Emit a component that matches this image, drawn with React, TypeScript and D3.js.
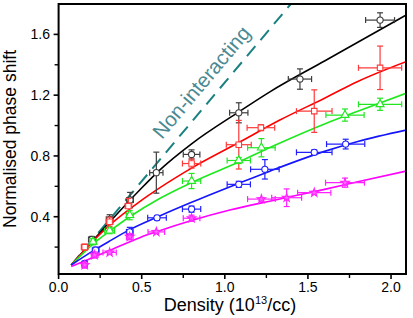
import { line, curveMonotoneX, curveLinear, scaleLinear, symbol, symbolCircle, symbolSquare, symbolTriangle, symbolStar } from "d3";

// measured points: [density, phase shift, x error, y error]
const blackPoints = [
  [0.2, 0.25, 0.02, 0.02],
  [0.307, 0.383, 0.02, 0.03],
  [0.43, 0.51, 0.02, 0.05],
  [0.588, 0.69, 0.04, 0.135],
  [0.8, 0.81, 0.05, 0.03],
  [1.084, 1.084, 0.055, 0.066],
  [1.452, 1.306, 0.07, 0.067],
  [1.934, 1.694, 0.087, 0.048],
];
const redPoints = [
  [0.157, 0.2, 0.02, 0.02],
  [0.307, 0.367, 0.02, 0.03],
  [0.42, 0.47, 0.02, 0.05],
  [0.8, 0.75, 0.055, 0.03],
  [1.084, 0.874, 0.075, 0.16],
  [1.217, 0.986, 0.083, 0.02],
  [1.538, 1.095, 0.107, 0.14],
  [1.934, 1.38, 0.13, 0.143],
];
const greenPoints = [
  [0.207, 0.235, 0.02, 0.02],
  [0.307, 0.308, 0.03, 0.02],
  [0.428, 0.41, 0.02, 0.03],
  [0.8, 0.635, 0.055, 0.05],
  [1.084, 0.77, 0.07, 0.02],
  [1.22, 0.854, 0.083, 0.06],
  [1.723, 1.069, 0.115, 0.04],
  [1.934, 1.14, 0.13, 0.04],
];
const bluePoints = [
  [0.157, 0.089, 0.015, 0.02],
  [0.223, 0.18, 0.02, 0.02],
  [0.428, 0.3, 0.02, 0.03],
  [0.592, 0.393, 0.056, 0.015],
  [0.8, 0.45, 0.055, 0.02],
  [1.084, 0.613, 0.07, 0.02],
  [1.241, 0.712, 0.086, 0.064],
  [1.538, 0.824, 0.107, 0.015],
  [1.727, 0.878, 0.115, 0.032],
];
const magentaPoints = [
  [0.157, 0.082, 0.015, 0.02],
  [0.217, 0.148, 0.02, 0.02],
  [0.307, 0.165, 0.04, 0.01],
  [0.428, 0.268, 0.02, 0.02],
  [0.588, 0.3, 0.05, 0.01],
  [0.8, 0.39, 0.05, 0.02],
  [1.22, 0.516, 0.083, 0.01],
  [1.372, 0.525, 0.09, 0.058],
  [1.538, 0.558, 0.1, 0.01],
  [1.723, 0.624, 0.117, 0.03],
];

// fitted curves
const blackFit = [[0.076, 0.082], [0.2, 0.235], [0.307, 0.365], [0.488, 0.576], [0.608, 0.707], [0.8, 0.88], [1.084, 1.09], [1.271, 1.222], [1.6, 1.425], [1.8, 1.548], [2.09, 1.727]];
const redFit = [[0.076, 0.082], [0.2, 0.232], [0.307, 0.345], [0.488, 0.5], [0.608, 0.59], [0.8, 0.72], [1.084, 0.888], [1.331, 1.036], [1.6, 1.18], [1.8, 1.29], [2.09, 1.42]];
const greenFit = [[0.076, 0.082], [0.207, 0.22], [0.307, 0.305], [0.428, 0.4], [0.608, 0.52], [0.8, 0.625], [1.084, 0.76], [1.271, 0.855], [1.6, 1.01], [1.8, 1.094], [2.09, 1.212]];
const blueFit = [[0.076, 0.082], [0.2, 0.17], [0.3, 0.235], [0.428, 0.315], [0.608, 0.405], [0.8, 0.495], [1.084, 0.62], [1.271, 0.7], [1.6, 0.83], [1.8, 0.895], [2.09, 0.97]];
const magentaFit = [[0.076, 0.072], [0.2, 0.128], [0.307, 0.178], [0.488, 0.262], [0.608, 0.308], [0.8, 0.375], [1.03, 0.444], [1.311, 0.512], [1.6, 0.58], [1.8, 0.63], [2.09, 0.7]];
const nonInteracting = [[0.076, 0.082], [1.397, 1.8]];

const xTicks = [0, 0.5, 1.0, 1.5, 2.0];
const xMinor = [0.25, 0.75, 1.25, 1.75];
const yTicks = [0.4, 0.8, 1.2, 1.6];
const yMinor = [0.2, 0.6, 1.0, 1.4];

const series = [
  { name: "black", points: blackPoints, fit: blackFit, line: "#000000", err: "#3c3c3c", marker: symbolCircle, size: 30 },
  { name: "red", points: redPoints, fit: redFit, line: "#ff0000", err: "#ff3a3a", marker: symbolSquare, size: 30 },
  { name: "green", points: greenPoints, fit: greenFit, line: "#1ee81e", err: "#22e622", marker: symbolTriangle, size: 28 },
  { name: "blue", points: bluePoints, fit: blueFit, line: "#1414ff", err: "#2020ff", marker: symbolCircle, size: 30 },
  { name: "magenta", points: magentaPoints, fit: magentaFit, line: "#ff00ff", err: "#ff22ff", marker: symbolStar, size: 22 },
];

const font = "'Liberation Sans', Arial, sans-serif";

export default function App() {
  const width = 413;
  const height = 318;
  const left = 58.6;
  const right = 406;
  const top = 4;
  const bottom = 274;
  const x = scaleLinear().domain([0, 2.09]).range([left, right]);
  const y = scaleLinear().domain([0.023, 1.8]).range([bottom, top]);

  const fitLine = line<number[]>()
    .x((d) => x(d[0]))
    .y((d) => y(d[1]))
    .curve(curveMonotoneX);
  const straight = line<number[]>()
    .x((d) => x(d[0]))
    .y((d) => y(d[1]))
    .curve(curveLinear);

  const angle = (Math.atan2(y(0.082) - y(1.8), x(1.397) - x(0.076)) * 180) / Math.PI;

  return (
    <svg width={width} height={height} style={{ position: "absolute", left: 0, top: 0, background: "#fff" }} fontFamily={font}>
      <defs>
        <clipPath id="plot">
          <rect x={left} y={top} width={right - left} height={bottom - top} />
        </clipPath>
      </defs>

      <g clipPath="url(#plot)">
        <path d={straight(nonInteracting) ?? ""} fill="none" stroke="#1b8080" strokeWidth={2} strokeDasharray="13 8" />
        {series.map((s) => (
          <path key={s.name} d={fitLine(s.fit) ?? ""} fill="none" stroke={s.line} strokeWidth={1.6} />
        ))}
      </g>

      <text x={162} y={140} fontSize={20.5} fill="#4a8a93" transform={`rotate(${-angle} 162 140)`}>
        Non-interacting
      </text>

      {series.map((s) => (
        <g key={s.name}>
          {s.points.map((p, i) => {
            const cx = x(p[0]);
            const cy = y(p[1]);
            const x0 = x(p[0] - p[2]);
            const x1 = x(p[0] + p[2]);
            const y0 = y(p[1] - p[3]);
            const y1 = y(p[1] + p[3]);
            const c = 3;
            return (
              <g key={i} stroke={s.err} strokeWidth={1.2} fill="none">
                <line x1={x0} x2={x1} y1={cy} y2={cy} />
                <line x1={cx} x2={cx} y1={y0} y2={y1} />
                <line x1={x0} x2={x0} y1={cy - c} y2={cy + c} />
                <line x1={x1} x2={x1} y1={cy - c} y2={cy + c} />
                <line x1={cx - c} x2={cx + c} y1={y0} y2={y0} />
                <line x1={cx - c} x2={cx + c} y1={y1} y2={y1} />
                <path
                  d={symbol().type(s.marker).size(s.size)() ?? ""}
                  transform={`translate(${cx},${cy})`}
                  fill={s.name === "magenta" ? "#ff66ff" : "#ffffff"}
                  stroke={s.err}
                  strokeWidth={1.1}
                />
              </g>
            );
          })}
        </g>
      ))}

      {/* frame */}
      <rect x={left} y={top} width={right - left} height={bottom - top} fill="none" stroke="#000" strokeWidth={2} />

      {xTicks.map((t) => (
        <g key={t}>
          <line x1={x(t)} x2={x(t)} y1={bottom} y2={bottom + 5} stroke="#000" strokeWidth={1.6} />
          <text x={x(t)} y={292} fontSize={14} textAnchor="middle" fill="#000">
            {t.toFixed(1)}
          </text>
        </g>
      ))}
      {xMinor.map((t) => (
        <line key={t} x1={x(t)} x2={x(t)} y1={bottom} y2={bottom + 4} stroke="#000" strokeWidth={1.4} />
      ))}
      {yTicks.map((t) => (
        <g key={t}>
          <line x1={left - 5} x2={left} y1={y(t)} y2={y(t)} stroke="#000" strokeWidth={1.6} />
          <text x={50} y={y(t) + 5} fontSize={14} textAnchor="end" fill="#000">
            {t.toFixed(1)}
          </text>
        </g>
      ))}
      {yMinor.map((t) => (
        <line key={t} x1={left - 4} x2={left} y1={y(t)} y2={y(t)} stroke="#000" strokeWidth={1.4} />
      ))}

      <text x={230} y={311} fontSize={18} textAnchor="middle" fill="#000">
        Density (10
        <tspan fontSize={11} dy={-7}>13</tspan>
        <tspan dy={7}>/cc)</tspan>
      </text>
      <text x={16} y={139} fontSize={17.5} textAnchor="middle" fill="#000" transform="rotate(-90 16 139)">
        Normalised phase shift
      </text>
    </svg>
  );
}
